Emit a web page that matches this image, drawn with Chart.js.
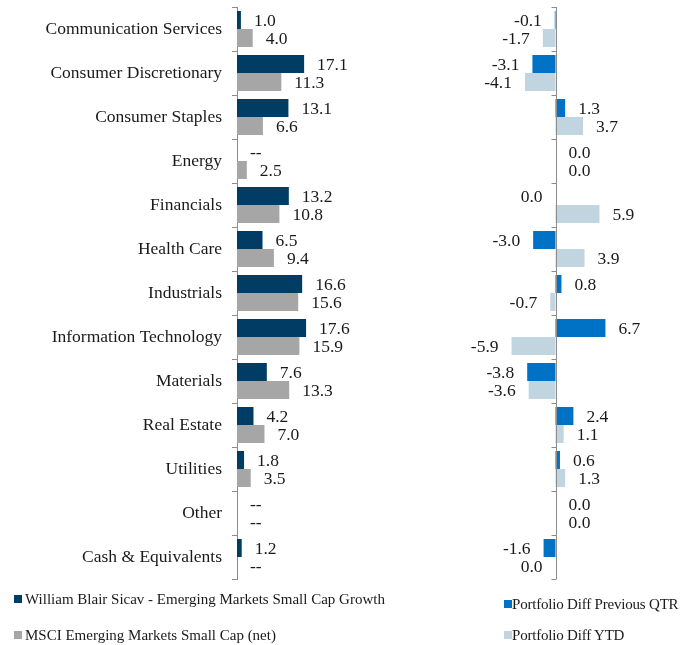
<!DOCTYPE html>
<html>
<head>
<meta charset="utf-8">
<script src="https://cdn.jsdelivr.net/npm/chart.js@4"></script>
<style>
  body { margin: 0; background: #fff; }
  #wrap { position: relative; width: 685px; height: 645px; font-family: "Liberation Serif", serif; color: #1a1a1a; }
  #left { position: absolute; left: 0; top: 0; }
  #right { position: absolute; left: 430px; top: 0; }
  .lg { position: absolute; font-size: 15px; height: 20px; line-height: 20px; white-space: nowrap; }
  .sw { position: absolute; width: 8px; height: 8px; }
</style>
</head>
<body>
<div id="wrap">
  <canvas id="left" width="430" height="590"></canvas>
  <canvas id="right" width="255" height="590"></canvas>

  <div class="sw" style="left:14px;top:595px;background:#003c64"></div>
  <div class="lg" style="left:25px;top:589px">William Blair Sicav - Emerging Markets Small Cap Growth</div>
  <div class="sw" style="left:14px;top:631px;background:#a6a6a6"></div>
  <div class="lg" style="left:25px;top:625px">MSCI Emerging Markets Small Cap (net)</div>

  <div class="sw" style="left:504px;top:600px;background:#0072c6"></div>
  <div class="lg" style="left:512px;top:594px;letter-spacing:-0.2px">Portfolio Diff Previous QTR</div>
  <div class="sw" style="left:504px;top:631px;background:#c1d5e1"></div>
  <div class="lg" style="left:512px;top:625px;letter-spacing:-0.2px">Portfolio Diff YTD</div>
</div>
<script>
var sectors = ['Communication Services', 'Consumer Discretionary', 'Consumer Staples', 'Energy',
  'Financials', 'Health Care', 'Industrials', 'Information Technology', 'Materials',
  'Real Estate', 'Utilities', 'Other', 'Cash & Equivalents'];
// null = shown as "--"
var fundWeights  = [1.0, 17.1, 13.1, null, 13.2, 6.5, 16.6, 17.6, 7.6, 4.2, 1.8, null, 1.2];
var benchWeights = [4.0, 11.3, 6.6, 2.5, 10.8, 9.4, 15.6, 15.9, 13.3, 7.0, 3.5, null, null];
// -0.0 = rounds to zero but sits on the negative side
var diffQtr = [-0.1, -3.1, 1.3, 0.0, -0.0, -3.0, 0.8, 6.7, -3.8, 2.4, 0.6, 0.0, -1.6];
var diffYtd = [-1.7, -4.1, 3.7, 0.0, 5.9, 3.9, -0.7, -5.9, -3.6, 1.1, 1.3, 0.0, -0.0];

var axisGrey = '#8c8c8c';
var labelFont = '17.5px "Liberation Serif", serif';

function isNeg(v) { return v < 0 || Object.is(v, -0); }

// value labels next to each bar end
var valueLabels = {
  id: 'valueLabels',
  afterDatasetsDraw: function(chart) {
    var ctx = chart.ctx, xs = chart.scales.x, ys = chart.scales.y;
    var band = (chart.chartArea.bottom - chart.chartArea.top) / sectors.length;
    var half = band * 0.818 / 4;
    ctx.save();
    ctx.font = labelFont;
    ctx.fillStyle = '#1a1a1a';
    ctx.textBaseline = 'middle';
    chart.data.datasets.forEach(function(ds, di) {
      ds.data.forEach(function(v, i) {
        var y = ys.getPixelForValue(i) + (di === 0 ? -half : half) + 1;
        var txt = v == null ? '--' : v.toFixed(1);
        var x = xs.getPixelForValue(v || 0);
        if (v != null && isNeg(v)) {
          ctx.textAlign = 'right';
          ctx.fillText(txt, x - 13, y);
        } else {
          ctx.textAlign = 'left';
          ctx.fillText(txt, x + 13, y);
        }
      });
    });
    ctx.restore();
  }
};

// zero axis with tick marks for the difference panel
var zeroAxis = {
  id: 'zeroAxis',
  afterDatasetsDraw: function(chart) {
    var ctx = chart.ctx, a = chart.chartArea;
    var x0 = Math.round(chart.scales.x.getPixelForValue(0)) + 0.5;
    var band = (a.bottom - a.top) / sectors.length;
    ctx.save();
    ctx.strokeStyle = axisGrey;
    ctx.lineWidth = 1;
    ctx.beginPath();
    ctx.moveTo(x0, a.top);
    ctx.lineTo(x0, a.bottom);
    for (var i = 0; i <= sectors.length; i++) {
      var y = Math.round(a.top + i * band) + 0.5;
      ctx.moveTo(x0 - 5, y);
      ctx.lineTo(x0, y);
    }
    ctx.stroke();
    ctx.restore();
  }
};

new Chart(document.getElementById('left'), {
  type: 'bar',
  data: {
    labels: sectors,
    datasets: [
      { label: 'William Blair Sicav - Emerging Markets Small Cap Growth', data: fundWeights, backgroundColor: '#003c64' },
      { label: 'MSCI Emerging Markets Small Cap (net)', data: benchWeights, backgroundColor: '#a6a6a6' }
    ]
  },
  options: {
    indexAxis: 'y',
    responsive: false,
    animation: false,
    categoryPercentage: 0.818,
    barPercentage: 1,
    layout: { padding: { top: 7, bottom: 11, left: 0, right: 36 } },
    plugins: { legend: { display: false }, tooltip: { enabled: false } },
    scales: {
      x: { display: false, min: 0, max: 40 },
      y: {
        afterFit: function(s) { s.width = 237; s.paddingTop = 0; s.paddingBottom = 0; },
        border: { color: axisGrey },
        grid: { drawOnChartArea: false, tickLength: 5, color: axisGrey, offset: true },
        ticks: { color: '#1a1a1a', padding: 10, font: { family: '"Liberation Serif", serif', size: 17.5 } }
      }
    }
  },
  plugins: [valueLabels]
});

new Chart(document.getElementById('right'), {
  type: 'bar',
  data: {
    labels: sectors,
    datasets: [
      { label: 'Portfolio Diff Previous QTR', data: diffQtr, backgroundColor: '#0072c6' },
      { label: 'Portfolio Diff YTD', data: diffYtd, backgroundColor: '#c1d5e1' }
    ]
  },
  options: {
    indexAxis: 'y',
    responsive: false,
    animation: false,
    categoryPercentage: 0.818,
    barPercentage: 1,
    layout: { padding: { top: 7, bottom: 11, left: 51, right: 55 } },
    plugins: { legend: { display: false }, tooltip: { enabled: false } },
    scales: {
      x: { display: false, min: -10, max: 10 },
      y: { display: false }
    }
  },
  plugins: [valueLabels, zeroAxis]
});
</script>
</body>
</html>
